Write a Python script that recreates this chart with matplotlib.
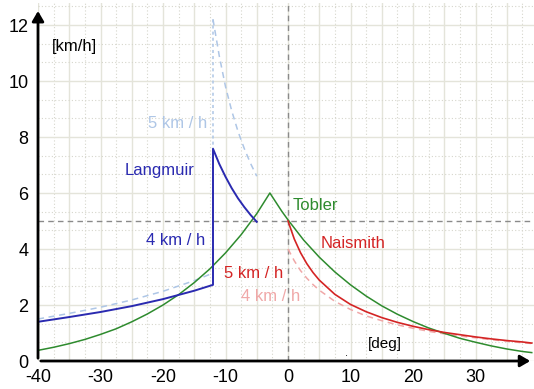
import numpy as np
import matplotlib
matplotlib.use("Agg")
import matplotlib.pyplot as plt

plt.rcParams['font.family'] = ['Liberation Sans', 'DejaVu Sans']

# slope angle [deg] -> walking speed [km/h]

# Tobler
tob_x = [-40, -37.5, -35, -32.5, -30, -27.5, -25, -22.5, -20, -17.5, -15, -12.5, -10, -7.5,
         -5, -2.9, -1, 0, 2.5, 5, 7.5, 10, 12.5, 15, 17.5, 20, 22.5, 25, 27.5, 30, 32.5, 35, 37.5, 39]
tob_y = [0.38, 0.49, 0.62, 0.77, 0.95, 1.15, 1.40, 1.68, 2.00, 2.37, 2.80, 3.29, 3.86, 4.51,
         5.26, 6.00, 5.35, 5.04, 4.32, 3.71, 3.18, 2.72, 2.32, 1.97, 1.67, 1.41, 1.18, 0.99, 0.81,
         0.67, 0.54, 0.43, 0.34, 0.30]

# Naismith 5 km/h and 4 km/h
nai_x = [0, 1, 2, 3, 4, 5, 7.5, 10, 12.5, 15, 17.5, 20, 22.5, 25, 27.5, 30, 32.5, 35, 37.5, 39]
nai5_y = [5.0, 4.36, 3.87, 3.48, 3.16, 2.89, 2.38, 2.02, 1.76, 1.55, 1.38, 1.24, 1.12, 1.02,
          0.94, 0.86, 0.79, 0.73, 0.68, 0.64]
nai4_y = [4.0, 3.58, 3.23, 2.96, 2.73, 2.53, 2.13, 1.84, 1.61, 1.44, 1.29, 1.17, 1.06, 0.97,
          0.89, 0.83, 0.76, 0.71, 0.65, 0.625]

# Langmuir, steep part and moderate part
lan_lo_x = [-40, -35, -30, -25, -20, -15, -12]
lan4_lo = [1.40, 1.57, 1.75, 1.96, 2.21, 2.51, 2.72]
lan5_lo = [1.50, 1.70, 1.92, 2.18, 2.49, 2.87, 3.14]
lan_hi_x = [-12, -11, -10, -9, -8, -7, -6, -5]
lan4_hi = [7.58, 7.04, 6.58, 6.17, 5.81, 5.50, 5.22, 4.97]
lan5_hi = [12.2, 10.9, 9.8, 8.93, 8.2, 7.59, 7.06, 6.6]

x_ticks = [-40, -30, -20, -10, 0, 10, 20, 30]
y_ticks = [0, 2, 4, 6, 8, 10, 12]

green = '#2e8b2e'
red = '#d42424'
pink = '#f0a8a8'
blue = '#2a2ab0'
lblue = '#aec6e6'
gray = '#8a8a8a'

fig = plt.figure(figsize=(5.34, 3.89), dpi=100)
ax = fig.add_axes([38 / 534, 28 / 389, 500 / 534, 358.4 / 389])
ax.set_xlim(-40, 40)
ax.set_ylim(0, 12.8)

# grid
ax.set_xticks(np.arange(-40, 41, 5))
ax.set_xticklabels([str(v) if v in x_ticks else '' for v in np.arange(-40, 41, 5)])
ax.set_xticks(np.arange(-37.5, 40, 5), minor=True)
ax.set_yticks(y_ticks)
ax.set_yticklabels([str(v) for v in y_ticks])
ax.set_yticks([k * 2 / 3 for k in range(1, 20) if k % 3 != 0], minor=True)
ax.grid(True, which='major', color='#e4e4da', lw=1.0)
ax.grid(True, which='minor', color='#d6d6cc', lw=0.8, linestyle=(0, (1, 2)))
ax.tick_params(which='both', length=0)
ax.tick_params(axis='x', pad=6, labelsize=13)
ax.tick_params(axis='y', pad=7, labelsize=13)
for s in ax.spines.values():
    s.set_visible(False)
ax.set_axisbelow(True)

# reference lines
ax.axhline(5, color=gray, lw=1.0, ls=(0, (4, 3)))
ax.axvline(0, color=gray, lw=1.0, ls=(0, (4, 3)))

# curves
ax.plot(lan_lo_x, lan5_lo, color=lblue, lw=1.1, ls=(0, (4, 3)))
ax.plot([lan_lo_x[-1], lan_lo_x[-1]], [lan5_lo[-1], 12.3], color=lblue, lw=1.1, ls=(0, (2, 2)))
ax.plot(lan_hi_x, lan5_hi, color=lblue, lw=1.1, ls=(0, (4, 3)))
ax.plot(nai_x, nai4_y, color=pink, lw=1.1, ls=(0, (4, 3)))
ax.plot(tob_x, tob_y, color=green, lw=1.1)
ax.plot(nai_x, nai5_y, color=red, lw=1.2)
ax.plot(lan_lo_x + lan_hi_x, lan4_lo + lan4_hi, color=blue, lw=1.4)

# axes arrows
ax.annotate('', xy=(-40, 12.6), xytext=(-40, 0), annotation_clip=False,
            arrowprops=dict(arrowstyle='-|>,head_width=0.35,head_length=0.6', color='black', lw=2))
ax.annotate('', xy=(39.2, 0), xytext=(-40, 0), annotation_clip=False,
            arrowprops=dict(arrowstyle='-|>,head_width=0.35,head_length=0.6', color='black', lw=2))

fs = 12
ax.text(-37.8, 11.25, '[km/h]', fontsize=fs, va='center', ha='left', color='black')
ax.text(-13.0, 8.5, '5 km / h', fontsize=fs, va='center', ha='right', color=lblue)
ax.text(-26.2, 6.8, 'Langmuir', fontsize=fs, va='center', ha='left', color=blue)
ax.text(-13.3, 4.29, '4 km / h', fontsize=fs, va='center', ha='right', color=blue)
ax.text(0.8, 5.57, 'Tobler', fontsize=fs, va='center', ha='left', color=green)
ax.text(5.3, 4.21, 'Naismith', fontsize=fs, va='center', ha='left', color=red)
ax.text(-0.8, 3.14, '5 km / h', fontsize=fs, va='center', ha='right', color=red)
ax.text(1.9, 2.29, '4 km / h', fontsize=fs, va='center', ha='right', color=pink)
ax.text(12.8, 0.61, '[deg]', fontsize=fs - 1, va='center', ha='left', color='black')
ax.text(9.3, 0.3, '.', fontsize=8, va='center', ha='center', color='black')

fig.savefig('out.png', dpi=100)
